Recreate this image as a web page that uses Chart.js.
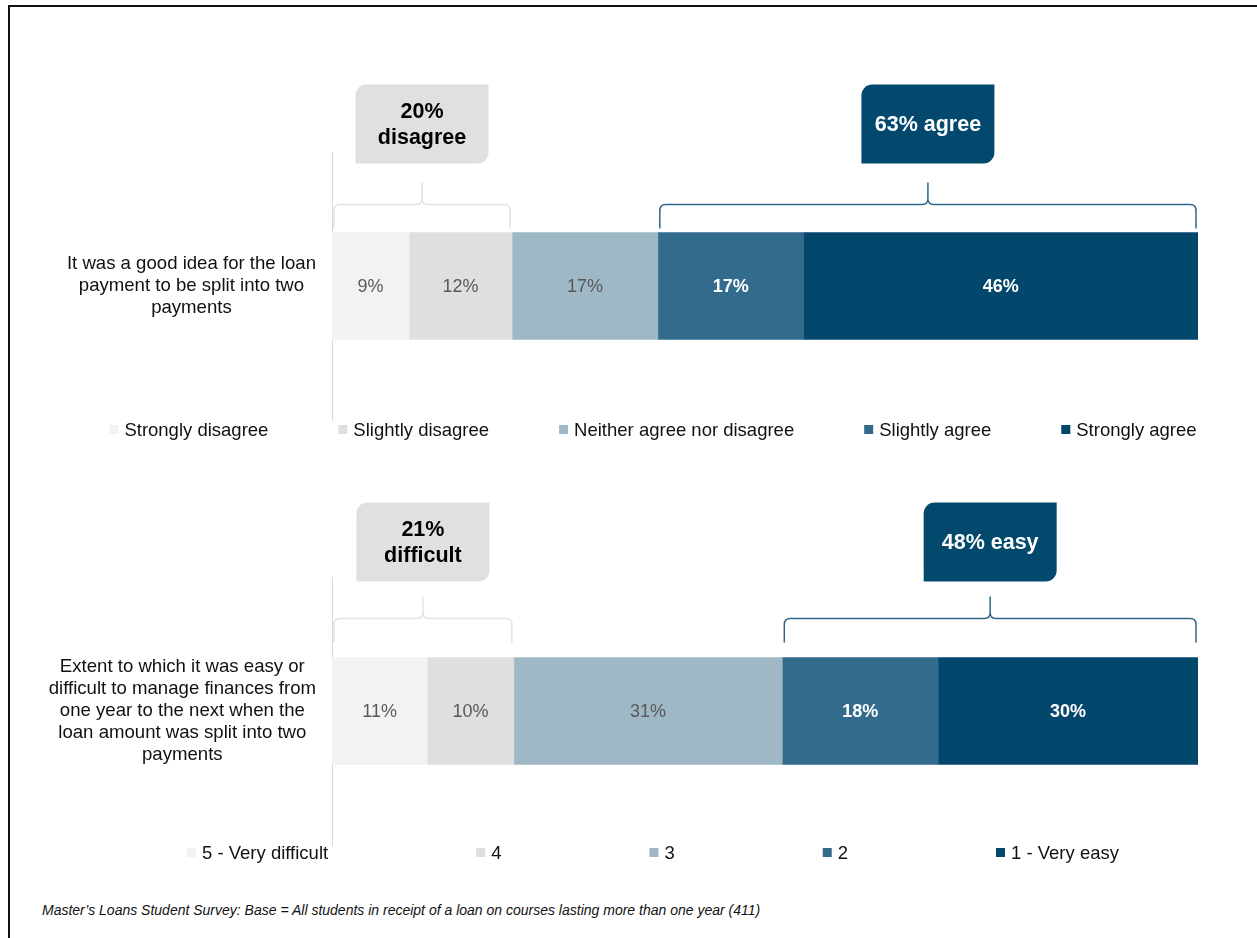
<!DOCTYPE html>
<html>
<head>
<meta charset="utf-8">
<script src="https://cdn.jsdelivr.net/npm/chart.js@4.4.1/dist/chart.umd.min.js"></script>
<style>
  body { margin: 0; background: #fff; width: 1257px; height: 938px; overflow: hidden; position: relative; }
  .frame { position: absolute; left: 8px; top: 5px; width: 1300px; height: 1000px; border-top: 2px solid #111; border-left: 2px solid #111; }
  .chart-box { position: absolute; left: 48px; width: 1208px; height: 400px; }
  #note { position: absolute; left: 42px; top: 902px; font: italic 14px "Liberation Sans", Arial, sans-serif; color: #111; white-space: nowrap; }
</style>
</head>
<body>
<div class="frame"></div>
<div class="chart-box" style="top:60px"><canvas id="agreeChart"></canvas></div>
<div class="chart-box" style="top:480px"><canvas id="easeChart"></canvas></div>
<div id="note">Master’s Loans Student Survey: Base = All students in receipt of a loan on courses lasting more than one year (411)</div>

<script>
const FONT = '"Liberation Sans", Arial, sans-serif';

// question 1: split payment
const agreeQuestion = ['It was a good idea for the loan', 'payment to be split into two', 'payments'];
const agreeLabels = ['Strongly disagree', 'Slightly disagree', 'Neither agree nor disagree', 'Slightly agree', 'Strongly agree'];
const agreeValues = [9, 12, 17, 17, 46];
const agreeCallouts = [
    { from: 0, to: 1, text: ['20%', 'disagree'], dark: false },
    { from: 3, to: 4, text: ['63% agree'], dark: true }
];

// question 2: managing finances
const easeQuestion = ['Extent to which it was easy or', 'difficult to manage finances from', 'one year to the next when the', 'loan amount was split into two', 'payments'];
const easeLabels = ['5 - Very difficult', '4', '3', '2', '1 - Very easy'];
const easeValues = [11, 10, 31, 18, 30];
const easeCallouts = [
    { from: 0, to: 1, text: ['21%', 'difficult'], dark: false },
    { from: 3, to: 4, text: ['48% easy'], dark: true }
];

const palette = ['#f2f2f2', '#dfdfdf', '#9fb8c6', '#336b8c', '#03476c'];

// value labels inside the segments
const barLabels = {
    id: 'barLabels',
    afterDatasetsDraw(chart) {
        const ctx = chart.ctx;
        ctx.save();
        ctx.textAlign = 'center';
        ctx.textBaseline = 'middle';
        chart.data.datasets.forEach((ds, i) => {
            const bar = chart.getDatasetMeta(i).data[0];
            const dark = i >= 3;
            ctx.font = (dark ? 'bold ' : '') + '18px ' + FONT;
            ctx.fillStyle = dark ? '#ffffff' : '#595959';
            ctx.fillText(ds.data[0] + '%', (bar.x + bar.base) / 2, bar.y + 1);
        });
        ctx.restore();
    }
};

function drawBrace(ctx, x0, x1, yEnd, yMid, yTip, r) {
    const xm = (x0 + x1) / 2;
    ctx.beginPath();
    ctx.moveTo(x0, yEnd);
    ctx.lineTo(x0, yMid + r);
    ctx.quadraticCurveTo(x0, yMid, x0 + r, yMid);
    ctx.lineTo(xm - r, yMid);
    ctx.quadraticCurveTo(xm, yMid, xm, yMid - r);
    ctx.lineTo(xm, yTip);
    ctx.moveTo(xm, yMid - r);
    ctx.quadraticCurveTo(xm, yMid, xm + r, yMid);
    ctx.lineTo(x1 - r, yMid);
    ctx.quadraticCurveTo(x1, yMid, x1, yMid + r);
    ctx.lineTo(x1, yEnd);
    ctx.stroke();
}

// summary boxes with braces over groups of segments
const callouts = {
    id: 'callouts',
    afterDraw(chart, args, opts) {
        const ctx = chart.ctx;
        ctx.save();
        opts.groups.forEach(g => {
            const first = chart.getDatasetMeta(g.from).data[0];
            const last = chart.getDatasetMeta(g.to).data[0];
            const x0 = Math.min(first.base, first.x) + 2;
            const x1 = Math.max(last.base, last.x) - 2;
            const barTop = first.y - first.height / 2;
            const cx = (x0 + x1) / 2;

            ctx.strokeStyle = g.dark ? '#2f6688' : '#e3e3e3';
            ctx.lineWidth = 1.5;
            drawBrace(ctx, x0, x1, barTop - opts.braceGap, barTop - opts.braceGap - 24, barTop - opts.braceGap - 46, 6);

            const w = 133, h = 79;
            const top = barTop - opts.boxRise;
            ctx.fillStyle = g.dark ? '#03486d' : '#e0e0e0';
            ctx.beginPath();
            ctx.roundRect(cx - w / 2, top, w, h, [11, 0, 11, 0]);
            ctx.fill();

            ctx.fillStyle = g.dark ? '#ffffff' : '#000000';
            ctx.font = 'bold 21.5px ' + FONT;
            ctx.textAlign = 'center';
            ctx.textBaseline = 'middle';
            const lh = 26;
            const y0 = top + h / 2 - (g.text.length - 1) * lh / 2;
            g.text.forEach((t, k) => ctx.fillText(t, cx, y0 + k * lh + 1));
        });
        ctx.restore();
    }
};

// legend with equal gaps between items
const spreadLegend = {
    id: 'spreadLegend',
    afterDraw(chart, args, opts) {
        const ctx = chart.ctx;
        ctx.save();
        ctx.font = '18.5px ' + FONT;
        const items = chart.data.datasets.map(ds => ({
            text: ds.label,
            color: ds.backgroundColor,
            w: 15 + ctx.measureText(ds.label).width
        }));
        const total = items.reduce((s, it) => s + it.w, 0) + opts.gap * (items.length - 1);
        let x = (chart.width - total) / 2 + 1;
        const y = chart.chartArea.bottom + opts.baseline;
        ctx.textAlign = 'left';
        ctx.textBaseline = 'alphabetic';
        items.forEach(it => {
            ctx.fillStyle = it.color;
            ctx.fillRect(x, y - 11, 9, 9);
            ctx.fillStyle = '#111111';
            ctx.fillText(it.text, x + 15, y);
            x += it.w + opts.gap;
        });
        ctx.restore();
    }
};

function makeChart(canvasId, question, labels, values, groups, layout) {
    const total = values.reduce((a, b) => a + b, 0);
    const ctx = document.getElementById(canvasId).getContext('2d');
    return new Chart(ctx, {
        type: 'bar',
        data: {
            labels: [question],
            datasets: labels.map((label, i) => ({
                label: label,
                data: [values[i]],
                backgroundColor: palette[i],
                borderWidth: 0,
                barThickness: 107
            }))
        },
        options: {
            indexAxis: 'y',
            responsive: true,
            maintainAspectRatio: false,
            animation: false,
            layout: { padding: { top: layout.top, bottom: layout.bottom, left: 0, right: 58 } },
            scales: {
                x: { stacked: true, display: false, min: 0, max: total },
                y: {
                    stacked: true,
                    grid: { display: false, drawTicks: false },
                    border: { color: '#d9d9d9', width: 1 },
                    ticks: {
                        crossAlign: 'center',
                        padding: 16,
                        color: '#111111',
                        font: { family: FONT, size: 18.6, lineHeight: 1.19 }
                    },
                    afterFit(scale) {
                        // keep the plot area independent of the label block height
                        scale.width = 284;
                        scale.paddingTop = 0;
                        scale.paddingBottom = 0;
                    }
                }
            },
            plugins: {
                legend: { display: false },
                tooltip: { enabled: false },
                callouts: { groups: groups, boxRise: layout.boxRise, braceGap: layout.braceGap },
                spreadLegend: { gap: layout.gap, baseline: layout.legendBaseline }
            }
        },
        plugins: [barLabels, callouts, spreadLegend]
    });
}

makeChart('agreeChart', agreeQuestion, agreeLabels, agreeValues, agreeCallouts,
    { top: 92, bottom: 40, boxRise: 148, braceGap: 4, gap: 70, legendBaseline: 16 });
makeChart('easeChart', easeQuestion, easeLabels, easeValues, easeCallouts,
    { top: 97, bottom: 35, boxRise: 155, braceGap: 15, gap: 148, legendBaseline: 14 });
</script>
</body>
</html>
